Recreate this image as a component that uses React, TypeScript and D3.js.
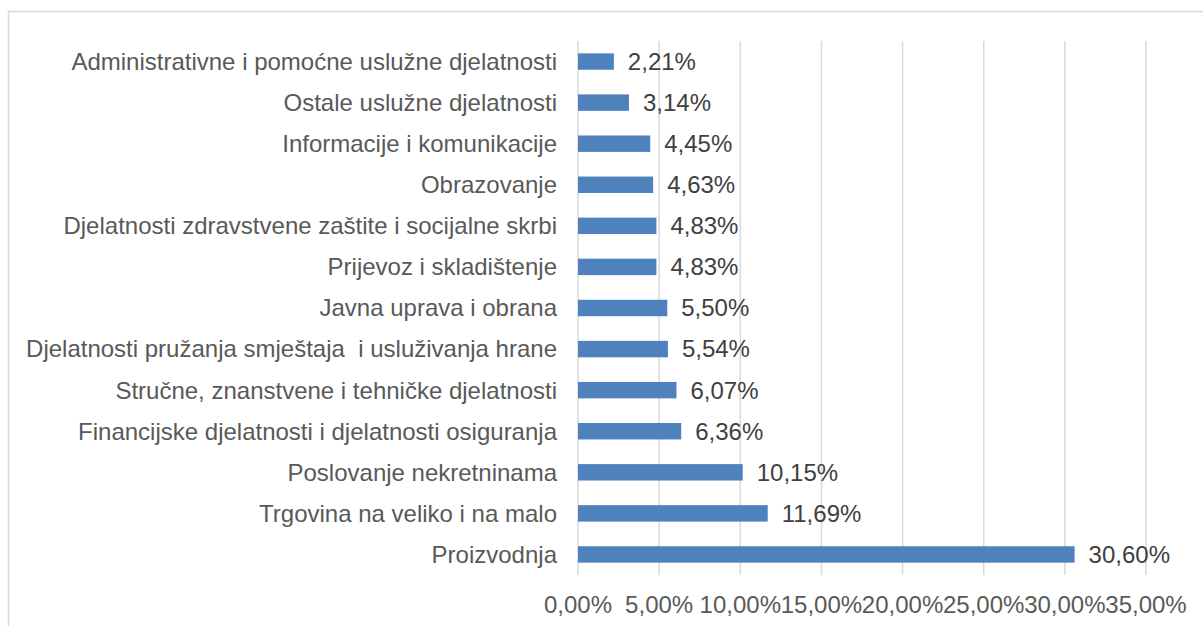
import React, { useEffect, useRef } from "react";
import * as d3 from "d3";

// categories top to bottom, as shown in the chart
const categories = [
  "Administrativne i pomoćne uslužne djelatnosti",
  "Ostale uslužne djelatnosti",
  "Informacije i komunikacije",
  "Obrazovanje",
  "Djelatnosti zdravstvene zaštite i socijalne skrbi",
  "Prijevoz i skladištenje",
  "Javna uprava i obrana",
  "Djelatnosti pružanja smještaja  i usluživanja hrane",
  "Stručne, znanstvene i tehničke djelatnosti",
  "Financijske djelatnosti i djelatnosti osiguranja",
  "Poslovanje nekretninama",
  "Trgovina na veliko i na malo",
  "Proizvodnja",
];

const shares = [2.21, 3.14, 4.45, 4.63, 4.83, 4.83, 5.5, 5.54, 6.07, 6.36, 10.15, 11.69, 30.6];

const xTicks = [0, 5, 10, 15, 20, 25, 30, 35];

const fmt = (v: number) => v.toFixed(2).replace(".", ",") + "%";

export default function App() {
  const ref = useRef<SVGSVGElement>(null);

  useEffect(() => {
    document.body.style.margin = "0";
    const svg = d3.select(ref.current);
    svg.selectAll("*").remove();

    const W = 1203,
      H = 626;
    const margin = { top: 41, right: 57, bottom: 51, left: 578 };
    const font = "'Liberation Sans', Arial, sans-serif";
    const textColor = "#595959";

    // outer chart border (right and bottom run off the picture)
    svg
      .append("rect")
      .attr("x", 8.5)
      .attr("y", 11.5)
      .attr("width", W + 20)
      .attr("height", H + 20)
      .attr("fill", "white")
      .attr("stroke", "#D9D9D9")
      .attr("stroke-width", 1.5);

    const x = d3
      .scaleLinear()
      .domain([0, 35])
      .range([margin.left, W - margin.right]);

    const y = d3
      .scaleBand()
      .domain(categories)
      .range([margin.top, H - margin.bottom])
      .paddingInner(0.6)
      .paddingOuter(0.3);

    // vertical gridlines
    svg
      .append("g")
      .selectAll("line")
      .data(xTicks)
      .enter()
      .append("line")
      .attr("x1", d => x(d))
      .attr("x2", d => x(d))
      .attr("y1", margin.top)
      .attr("y2", H - margin.bottom)
      .attr("stroke", "#D9D9D9")
      .attr("stroke-width", 1.5);

    // x tick labels
    svg
      .append("g")
      .selectAll("text")
      .data(xTicks)
      .enter()
      .append("text")
      .attr("x", d => x(d))
      .attr("y", 613)
      .attr("text-anchor", "middle")
      .style("font-family", font)
      .style("font-size", "24px")
      .attr("fill", textColor)
      .text(d => fmt(d));

    // bars
    svg
      .append("g")
      .selectAll("rect")
      .data(categories)
      .enter()
      .append("rect")
      .attr("x", x(0))
      .attr("y", d => y(d)!)
      .attr("width", (d, i) => x(shares[i]) - x(0))
      .attr("height", y.bandwidth())
      .attr("fill", "#4F81BD");

    // category labels
    svg
      .append("g")
      .selectAll("text")
      .data(categories)
      .enter()
      .append("text")
      .attr("x", margin.left - 21)
      .attr("y", d => y(d)! + y.bandwidth() / 2)
      .attr("dy", "0.35em")
      .attr("text-anchor", "end")
      .style("font-family", font)
      .style("font-size", "24px")
      .style("white-space", "pre")
      .attr("fill", textColor)
      .text(d => d);

    // value labels
    svg
      .append("g")
      .selectAll("text")
      .data(categories)
      .enter()
      .append("text")
      .attr("x", (d, i) => x(shares[i]) + 14)
      .attr("y", d => y(d)! + y.bandwidth() / 2)
      .attr("dy", "0.35em")
      .style("font-family", font)
      .style("font-size", "24px")
      .attr("fill", "#404040")
      .text((d, i) => fmt(shares[i]));
  }, []);

  return <svg ref={ref} width={1203} height={626} style={{ display: "block" }} />;
}
